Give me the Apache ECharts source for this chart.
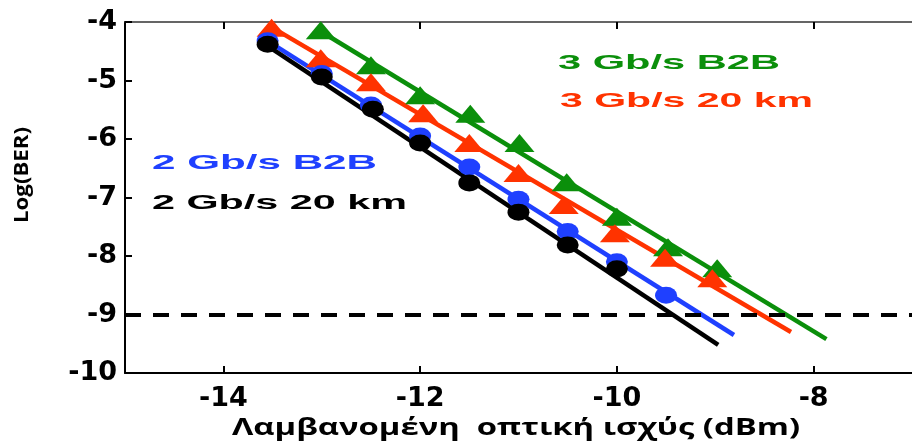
<!DOCTYPE html>
<html>
<head>
<meta charset="utf-8">
<script src="https://cdn.jsdelivr.net/npm/echarts@6/dist/echarts.min.js"></script>
<style>
html,body{margin:0;padding:0;background:#fff;}
#chart{width:912px;height:443px;}
</style>
</head>
<body>
<div id="chart"></div>
<script>
// ---- data ----
const xTickLabels = [-14, -12, -10, -8];
const yTickLabels = [-10, -9, -8, -7, -6, -5, -4];

const x2G20 = [-13.55, -13.0, -12.48, -12.0, -11.5, -11.0, -10.5, -10.0];
const y2G20 = [-4.38, -4.94, -5.49, -6.07, -6.75, -7.25, -7.81, -8.22];
const fit2G20X = [-13.62, -8.97];
const fit2G20Y = [-4.33, -9.52];

const x2GB2B = [-13.55, -13.0, -12.5, -12.0, -11.5, -11.0, -10.5, -10.0, -9.5];
const y2GB2B = [-4.32, -4.88, -5.42, -5.95, -6.48, -7.03, -7.58, -8.10, -8.67];
const fit2GB2BX = [-13.62, -8.81];
const fit2GB2BY = [-4.25, -9.35];

const x3G20 = [-13.51, -13.01, -12.5, -11.97, -11.5, -11.0, -10.54, -10.02, -9.51, -9.03];
const y3G20 = [-4.10, -4.62, -5.03, -5.56, -6.07, -6.58, -7.13, -7.61, -8.03, -8.38];
const fit3G20X = [-13.55, -8.23];
const fit3G20Y = [-4.05, -9.30];

const x3GB2B = [-13.01, -12.5, -12.0, -11.49, -10.99, -10.51, -10.0, -9.48, -8.98];
const y3GB2B = [-4.14, -4.74, -5.25, -5.57, -6.07, -6.74, -7.33, -7.85, -8.21];
const fit3GB2BX = [-13.05, -7.87];
const fit3GB2BY = [-4.12, -9.42];

const threshold = -9;
const seriesNames = ['3 Gb/s B2B', '3 Gb/s 20 km', '2 Gb/s B2B', '2 Gb/s 20 km'];
const xTitle = 'Λαμβανομένη  οπτική ισχύς (dBm)';
const yTitle = 'Log(BER)';

// ---- styling ----
const cGreen = '#0b8f0b', cRed = '#ff3300', cBlue = '#1f40ff', cBlack = '#000000';
const zip = (xs, ys) => xs.map((x, i) => [x, ys[i]]);

const mctx = document.createElement('canvas').getContext('2d');
function fitScale(text, font, w) { mctx.font = font; return w / mctx.measureText(text).width; }

function label(text, x, y, w, color, size) {
  const fam = 'Liberation Sans';
  const font = 'bold ' + size + 'px "' + fam + '"';
  return {
    type: 'text', x: x, y: y, scaleX: fitScale(text, font, w), z: 100,
    style: { text: text, fill: color, fontSize: size, fontWeight: 'bold', fontFamily: fam,
             align: 'left', verticalAlign: 'middle' }
  };
}

const xTitleFont = 'bold 24px "Open Sans"';
const yTitleFont = 'bold 20px "Open Sans"';

const chart = echarts.init(document.getElementById('chart'), null, {renderer: 'canvas'});

function lineSeries(name, xs, ys, color) {
  return { name: name, type: 'line', data: zip(xs, ys), showSymbol: false, symbol: 'none',
           lineStyle: { color: color, width: 4.5 }, silent: true, clip: false, z: 2 };
}
function markerSeries(name, xs, ys, color, sym, size) {
  return { name: name, type: 'scatter', data: zip(xs, ys), symbol: sym, symbolSize: size,
           itemStyle: { color: color, opacity: 1 }, clip: false, z: 3, silent: true };
}

const axisTickStyle = { show: true, inside: true, length: 7, lineStyle: { color: '#000', width: 2 } };

const option = {
  animation: false,
  backgroundColor: '#fff',
  grid: { left: 125, right: -8, top: 22, bottom: 70, containLabel: false },
  xAxis: [{
    type: 'value', min: -15, max: -7, position: 'bottom',
    axisLine: { show: true, onZero: false, lineStyle: { color: '#000', width: 2 } },
    axisTick: Object.assign({}, axisTickStyle, { customValues: xTickLabels }),
    axisLabel: { customValues: xTickLabels, color: '#000', fontSize: 27, fontWeight: 'bold',
                 fontFamily: 'DejaVu Sans', margin: 12 },
    splitLine: { show: false }
  }, {
    type: 'value', min: -15, max: -7, position: 'top',
    axisLine: { show: true, onZero: false, lineStyle: { color: '#333', width: 1.5 } },
    axisTick: Object.assign({}, axisTickStyle, { customValues: xTickLabels }),
    axisLabel: { show: false },
    splitLine: { show: false }
  }],
  yAxis: {
    type: 'value', min: -10, max: -4, interval: 1,
    axisLine: { show: true, onZero: false, lineStyle: { color: '#000', width: 2 } },
    axisTick: axisTickStyle,
    axisLabel: { color: '#000', fontSize: 27, fontWeight: 'bold', fontFamily: 'DejaVu Sans', margin: 8,
                 customValues: yTickLabels },
    splitLine: { show: false }
  },
  series: [
    Object.assign(lineSeries(seriesNames[0], fit3GB2BX, fit3GB2BY, cGreen), {
      markLine: { silent: true, symbol: 'none', label: { show: false },
                  lineStyle: { color: '#000', width: 4, type: [16, 12] },
                  data: [{ yAxis: threshold }] }
    }),
    markerSeries(seriesNames[0], x3GB2B, y3GB2B, cGreen, 'triangle', [30, 18]),
    lineSeries(seriesNames[1], fit3G20X, fit3G20Y, cRed),
    markerSeries(seriesNames[1], x3G20, y3G20, cRed, 'triangle', [30, 18]),
    lineSeries(seriesNames[2], fit2GB2BX, fit2GB2BY, cBlue),
    markerSeries(seriesNames[2], x2GB2B, y2GB2B, cBlue, 'circle', [22, 17]),
    lineSeries(seriesNames[3], fit2G20X, fit2G20Y, cBlack),
    markerSeries(seriesNames[3], x2G20, y2G20, cBlack, 'circle', [22, 17])
  ],
  graphic: [
    label(seriesNames[0], 558, 63, 222, cGreen, 21),
    label(seriesNames[1], 560, 101, 253, cRed, 21),
    label(seriesNames[2], 152, 163, 225, cBlue, 21),
    label(seriesNames[3], 152, 203, 255, cBlack, 21),
    { type: 'text', x: 516, y: 428, scaleX: fitScale(xTitle, xTitleFont, 568),
      style: { text: xTitle, fill: '#000', fontSize: 24, fontWeight: 'bold', fontFamily: 'Open Sans',
               align: 'center', verticalAlign: 'middle' } },
    { type: 'text', x: 22, y: 175, rotation: Math.PI / 2, scaleX: fitScale(yTitle, yTitleFont, 96),
      style: { text: yTitle, fill: '#000', fontSize: 20, fontWeight: 'bold', fontFamily: 'Open Sans',
               align: 'center', verticalAlign: 'middle' } }
  ]
};
chart.setOption(option);
</script>
</body>
</html>
